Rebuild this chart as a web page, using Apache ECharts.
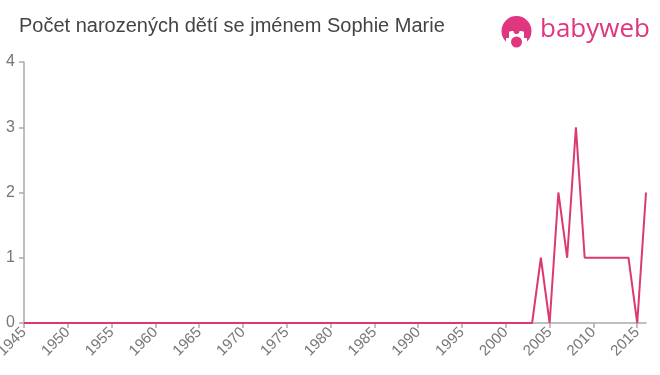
<!DOCTYPE html>
<html>
<head>
<meta charset="utf-8">
<script src="https://cdn.jsdelivr.net/npm/echarts@6/dist/echarts.min.js"></script>
<style>html,body{margin:0;padding:0;background:#fff}#c{width:660px;height:375px}</style>
</head>
<body>
<div id="c"></div>
<script>
const titleText = 'Počet narozených dětí se jménem Sophie Marie';
const years = ['1945','1946','1947','1948','1949','1950','1951','1952','1953','1954','1955','1956','1957','1958','1959','1960','1961','1962','1963','1964','1965','1966','1967','1968','1969','1970','1971','1972','1973','1974','1975','1976','1977','1978','1979','1980','1981','1982','1983','1984','1985','1986','1987','1988','1989','1990','1991','1992','1993','1994','1995','1996','1997','1998','1999','2000','2001','2002','2003','2004','2005','2006','2007','2008','2009','2010','2011','2012','2013','2014','2015','2016'];
const counts = [0,0,0,0,0,0,0,0,0,0,0,0,0,0,0,0,0,0,0,0,0,0,0,0,0,0,0,0,0,0,0,0,0,0,0,0,0,0,0,0,0,0,0,0,0,0,0,0,0,0,0,0,0,0,0,0,0,0,0,1,0,2,1,3,1,1,1,1,1,1,0,2];
const yTicks = [0,1,2,3,4];

const chart = echarts.init(document.getElementById('c'), null, {renderer:'canvas'});
const pink = '#e0357f';
chart.setOption({
  animation:false,
  title:{text:titleText,left:19,top:16,padding:0,textStyle:{fontFamily:'Liberation Sans, Arial, sans-serif',fontSize:20,fontWeight:'normal',color:'#444'}},
  grid:{left:24,right:14,top:62,bottom:52,containLabel:false,outerBoundsMode:'none'},
  xAxis:{type:'category',data:years,boundaryGap:false,
    axisLine:{lineStyle:{color:'#aaa',width:1.5}},
    axisTick:{interval:4,length:5,lineStyle:{color:'#aaa',width:1.5}},
    axisLabel:{interval:4,rotate:45,color:'#777',fontSize:15,fontFamily:'Liberation Sans, Arial, sans-serif',margin:7},
    splitLine:{show:false}},
  yAxis:{type:'value',min:yTicks[0],max:yTicks[yTicks.length-1],interval:1,
    axisLine:{show:true,lineStyle:{color:'#aaa',width:1.5}},
    axisTick:{show:true,length:5,lineStyle:{color:'#aaa',width:1.5}},
    axisLabel:{color:'#777',fontSize:16,fontFamily:'Liberation Sans, Arial, sans-serif',margin:9},
    splitLine:{show:false}},
  series:[{type:'line',data:counts,symbol:'none',lineStyle:{color:'#dc3a6c',width:2},itemStyle:{color:'#dc3a6c'}}],
  graphic:[
    {type:'circle',shape:{cx:516.5,cy:31,r:15},style:{fill:pink}},
    {type:'rect',shape:{x:506,y:31,width:21,height:16,r:[6,6,0,0]},style:{fill:'#fff'}},
    {type:'rect',shape:{x:505,y:31,width:4,height:7},style:{fill:pink}},
    {type:'rect',shape:{x:524,y:31,width:4,height:7},style:{fill:pink}},
    {type:'circle',shape:{cx:516.5,cy:31,r:3},style:{fill:pink}},
    {type:'circle',shape:{cx:516.5,cy:42,r:5.5},style:{fill:pink}},
    {type:'text',left:540,top:17,style:{text:'babyweb',fill:pink,font:'26px "Open Sans", Arial, sans-serif'}}
  ]
});
</script>
</body>
</html>
